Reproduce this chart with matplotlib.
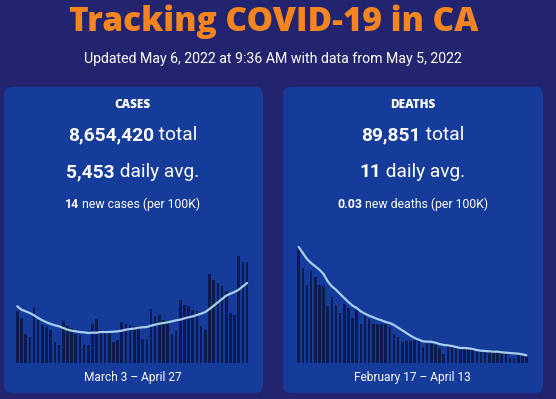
import matplotlib
matplotlib.use("Agg")
import matplotlib.pyplot as plt
from matplotlib.patches import FancyBboxPatch
import numpy as np

# ---------------- data ----------------
title = "Tracking COVID-19 in CA"
subtitle = "Updated May 6, 2022 at 9:36 AM with data from May 5, 2022"

cases_label = "CASES"
cases_total = "8,654,420"
cases_avg = "5,453"
cases_per100k = "14"
cases_range = "March 3 \u2013 April 27"

deaths_label = "DEATHS"
deaths_total = "89,851"
deaths_avg = "11"
deaths_per100k = "0.03"
deaths_range = "February 17 \u2013 April 13"

# daily values (relative units)
cases_daily = [155, 135, 88, 78, 168, 130, 115, 108, 100, 63, 53, 125, 110, 105,
               88, 85, 55, 55, 118, 132, 100, 100, 95, 62, 68, 124, 118, 113,
               108, 111, 72, 73, 162, 142, 145, 130, 125, 87, 95, 190, 175, 170,
               160, 155, 112, 98, 268, 250, 240, 230, 215, 150, 145, 322, 303, 303]
cases_avg7 = [170, 160, 155, 150, 143, 135, 128, 122, 117, 113, 110, 105, 100, 97,
              95, 93, 92, 90, 91, 91, 93, 93, 93, 94, 95, 97, 100, 102,
              103, 106, 107, 108, 112, 115, 118, 120, 122, 125, 128, 130, 134, 137,
              140, 144, 148, 153, 162, 172, 182, 192, 202, 208, 213, 220, 230, 240]

deaths_daily = [345, 285, 235, 275, 257, 235, 230, 172, 198, 175, 150, 178, 164, 135,
                160, 117, 140, 132, 118, 117, 117, 117, 107, 88, 77, 63, 67, 67,
                70, 71, 47, 60, 58, 55, 45, 28, 58, 50, 45, 42, 42, 43, 38, 33,
                32, 33, 34, 38, 36, 30, 29, 15, 15, 24, 21, 20]
deaths_avg7 = [348, 330, 312, 300, 290, 280, 267, 245, 230, 220, 207, 195, 183, 172,
               165, 155, 148, 142, 137, 132, 128, 123, 120, 114, 106, 98, 90, 82,
               75, 70, 65, 64, 64, 61, 57, 54, 53, 51, 48, 45, 45, 44, 42, 39,
               37, 36, 35, 34, 34, 32, 31, 30, 29, 28, 26, 23]

# ---------------- style ----------------
W, H = 556, 399
BG = "#22246f"
PANEL = "#153b9b"
BAR = "#0b1b4f"
LINE = "#a6cff2"
ORANGE = "#f5851f"
WHITE = "#ffffff"

fig = plt.figure(figsize=(W / 100, H / 100), dpi=100, facecolor=BG)
bg = fig.add_axes([0, 0, 1, 1])
bg.set_xlim(0, W)
bg.set_ylim(H, 0)
bg.axis("off")
bg.set_facecolor(BG)

# panels
for x0, x1 in [(4, 263), (283, 543)]:
    p = FancyBboxPatch((x0 + 8, 87 + 8), (x1 - x0) - 16, (393 - 87) - 16,
                       boxstyle="round,pad=8", fc=PANEL, ec="none", zorder=0)
    bg.add_patch(p)

bg.text(273.5, 22, title, ha="center", va="center", color=ORANGE,
        fontsize=24, fontweight="heavy", family="Open Sans")
bg.text(272.5, 59, subtitle, ha="center", va="center", color=WHITE,
        fontsize=10.2, family="Roboto")

renderer = fig.canvas.get_renderer()


def mixed(cx, cy, parts):
    texts = []
    for s, w, size, fam in parts:
        t = bg.text(0, cy, s, ha="left", va="center", color=WHITE,
                    fontsize=size, fontweight=w, family=fam)
        texts.append(t)
    widths = [t.get_window_extent(renderer).width for t in texts]
    x = cx - sum(widths) / 2
    for t, w in zip(texts, widths):
        t.set_x(x)
        x += w


for cx, lab, tot, avg, per, noun in [
        (132.5, cases_label, cases_total, cases_avg, cases_per100k, "cases"),
        (412.5, deaths_label, deaths_total, deaths_avg, deaths_per100k, "deaths")]:
    bg.text(cx, 105, lab, ha="center", va="center", color=WHITE,
            fontsize=8.5, fontweight="heavy", family="Open Sans")
    mixed(cx, 135, [(tot, "bold", 13.8, "Roboto"), (" total", "normal", 13.8, "Roboto")])
    mixed(cx, 172, [(avg, "bold", 13.8, "Roboto"), (" daily avg.", "normal", 13.8, "Roboto")])
    mixed(cx, 204, [(per, "bold", 8.8, "Roboto"),
                    (f" new {noun} (per 100K)", "normal", 8.8, "Roboto")])

bg.text(132.5, 377, cases_range, ha="center", va="center", color=WHITE,
        fontsize=8.55, family="Roboto")
bg.text(412.5, 377, deaths_range, ha="center", va="center", color=WHITE,
        fontsize=8.55, family="Roboto")


def chart(left_px, width_px, daily, avg):
    base = 363
    height_px = 118
    ax = fig.add_axes([left_px / W, (H - base) / H, width_px / W, height_px / H])
    ax.set_facecolor("none")
    x = np.arange(len(daily))
    ax.bar(x, daily, width=0.62, color=BAR, zorder=1)
    ax.plot(x, avg, color=LINE, lw=1.6, zorder=2, solid_capstyle="round")
    ax.set_xlim(-0.5, len(daily) - 0.5)
    ax.set_ylim(0, height_px * 3)
    ax.axis("off")


chart(15.2, 234, cases_daily, cases_avg7)
chart(296.6, 232, deaths_daily, deaths_avg7)

fig.savefig("out.png", dpi=100, facecolor=BG)
